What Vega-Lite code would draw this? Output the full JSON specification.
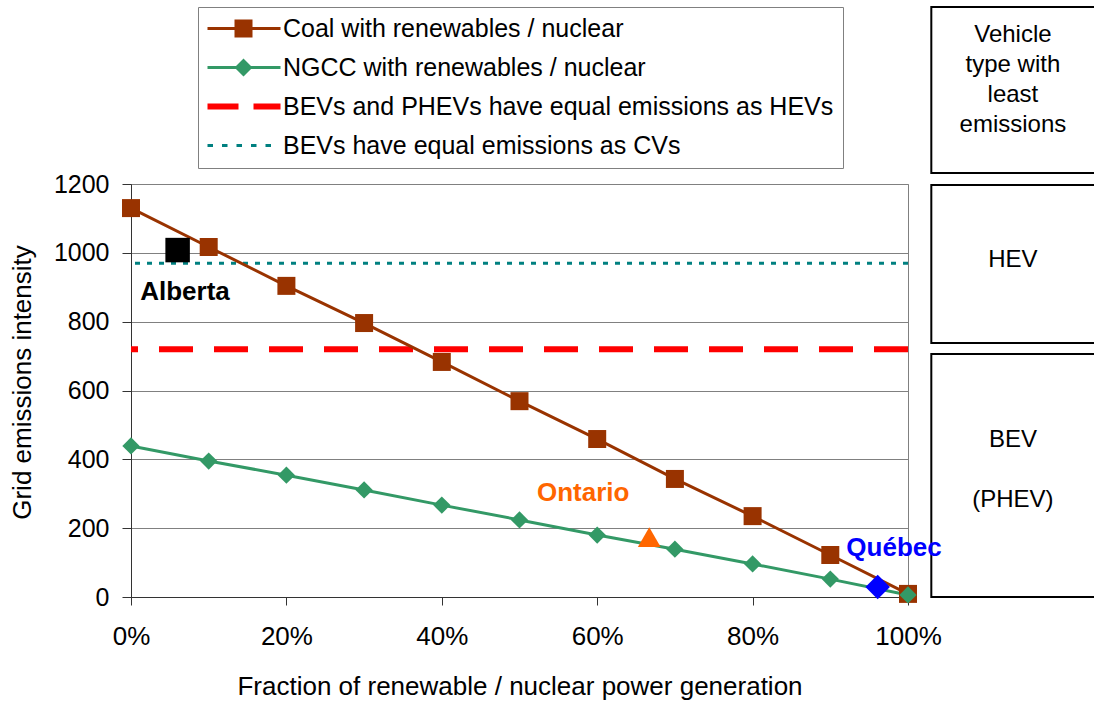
{
  "$schema": "https://vega.github.io/schema/vega-lite/v6.json",
  "width": 777,
  "height": 413,
  "autosize": {"type": "none"},
  "padding": {"left": 131, "top": 184, "right": 186, "bottom": 107},
  "background": "white",
  "config": {
    "font": "Liberation Sans",
    "view": {"stroke": "#808080", "strokeWidth": 1},
    "axis": {
      "labelFont": "Liberation Sans",
      "titleFont": "Liberation Sans",
      "labelColor": "#000",
      "titleColor": "#000",
      "titleFontWeight": "normal",
      "domainColor": "#333",
      "tickColor": "#333",
      "labelFlush": false,
      "labelOverlap": false,
      "labelBound": false
    },
    "legend": {
      "orient": "none",
      "legendX": 67,
      "legendY": -177,
      "title": null,
      "labelFont": "Liberation Sans",
      "labelFontSize": 25,
      "labelColor": "#000",
      "labelLimit": 1000,
      "labelOffset": 51,
      "symbolSize": 400,
      "symbolOpacity": 1,
      "symbolStrokeWidth": 0,
      "rowPadding": 13,
      "padding": 9,
      "strokeColor": "#808080",
      "fillColor": "#ffffff"
    }
  },
  "datasets": {
    "series": [
      {"series": "Coal", "fraction": 0.0, "intensity": 1130},
      {"series": "Coal", "fraction": 0.1, "intensity": 1017},
      {"series": "Coal", "fraction": 0.2, "intensity": 904},
      {"series": "Coal", "fraction": 0.3, "intensity": 796},
      {"series": "Coal", "fraction": 0.4, "intensity": 683},
      {"series": "Coal", "fraction": 0.5, "intensity": 569},
      {"series": "Coal", "fraction": 0.6, "intensity": 459},
      {"series": "Coal", "fraction": 0.7, "intensity": 343},
      {"series": "Coal", "fraction": 0.8, "intensity": 235},
      {"series": "Coal", "fraction": 0.9, "intensity": 122},
      {"series": "Coal", "fraction": 1.0, "intensity": 9},
      {"series": "NGCC", "fraction": 0.0, "intensity": 439},
      {"series": "NGCC", "fraction": 0.1, "intensity": 395},
      {"series": "NGCC", "fraction": 0.2, "intensity": 354},
      {"series": "NGCC", "fraction": 0.3, "intensity": 311},
      {"series": "NGCC", "fraction": 0.4, "intensity": 267},
      {"series": "NGCC", "fraction": 0.5, "intensity": 224},
      {"series": "NGCC", "fraction": 0.6, "intensity": 180},
      {"series": "NGCC", "fraction": 0.7, "intensity": 139},
      {"series": "NGCC", "fraction": 0.8, "intensity": 96},
      {"series": "NGCC", "fraction": 0.9, "intensity": 52},
      {"series": "NGCC", "fraction": 1.0, "intensity": 6}
    ],
    "thresholds": [
      {"threshold": "HEV", "intensity": 720},
      {"threshold": "CV", "intensity": 970}
    ],
    "regions": [
      {"region": "Alberta", "fraction": 0.06, "intensity": 1008, "lx": 0.0695, "ly": 886},
      {"region": "Ontario", "fraction": 0.667, "intensity": 174, "lx": 0.582, "ly": 302},
      {"region": "Québec", "fraction": 0.961, "intensity": 29, "lx": 0.982, "ly": 142}
    ],
    "boxes": [
      {"box": "head", "x1": 1.03, "x2": 1.26, "y1": 1232, "y2": 1714},
      {"box": "HEV", "x1": 1.03, "x2": 1.26, "y1": 738, "y2": 1197},
      {"box": "BEV", "x1": 1.03, "x2": 1.26, "y1": 0, "y2": 706}
    ],
    "boxText": [
      {"text": "Vehicle\ntype with\nleast\nemissions", "tx": 1.135, "ty": 1634},
      {"text": "HEV", "tx": 1.135, "ty": 980},
      {"text": "BEV", "tx": 1.135, "ty": 456},
      {"text": "(PHEV)", "tx": 1.135, "ty": 282}
    ],
    "legendItems": [
      {"item": "Coal with renewables / nuclear"},
      {"item": "NGCC with renewables / nuclear"},
      {"item": "BEVs and PHEVs have equal emissions as HEVs"},
      {"item": "BEVs have equal emissions as CVs"}
    ]
  },
  "layer": [
    {
      "data": {"name": "boxes"},
      "mark": {"type": "rect", "fill": "#ffffff", "stroke": "#000000", "strokeWidth": 2},
      "encoding": {
        "x": {"field": "x1", "type": "quantitative"},
        "x2": {"field": "x2"},
        "y": {"field": "y1", "type": "quantitative"},
        "y2": {"field": "y2"}
      }
    },
    {
      "data": {"name": "boxText"},
      "mark": {"type": "text", "fontSize": 24, "font": "Liberation Sans", "align": "center", "baseline": "middle", "lineBreak": "\n", "lineHeight": 30, "color": "#000000"},
      "encoding": {
        "x": {"field": "tx", "type": "quantitative"},
        "y": {"field": "ty", "type": "quantitative"},
        "text": {"field": "text"}
      }
    },
    {
      "data": {"name": "thresholds"},
      "transform": [{"filter": "datum.threshold === 'HEV'"}],
      "mark": {"type": "rule", "color": "#ff0000", "strokeWidth": 6, "strokeDash": [34, 21]},
      "encoding": {"y": {"field": "intensity", "type": "quantitative"}}
    },
    {
      "data": {"name": "thresholds"},
      "transform": [{"filter": "datum.threshold === 'CV'"}],
      "mark": {"type": "rule", "color": "#008080", "strokeWidth": 3, "strokeDash": [5, 7]},
      "encoding": {"y": {"field": "intensity", "type": "quantitative"}}
    },
    {
      "data": {"name": "series"},
      "transform": [{"filter": "datum.series === 'Coal'"}],
      "mark": {"type": "line", "color": "#993300", "strokeWidth": 3},
      "encoding": {
        "x": {
          "field": "fraction", "type": "quantitative",
          "scale": {"domain": [0, 1], "nice": false},
          "axis": {
            "values": [0, 0.2, 0.4, 0.6, 0.8, 1],
            "format": ".0%",
            "labelFontSize": 26,
            "tickSize": 8,
            "labelPadding": 18,
            "grid": false,
            "title": "Fraction of renewable / nuclear power generation",
            "titleFontSize": 26,
            "titlePadding": 24
          }
        },
        "y": {
          "field": "intensity", "type": "quantitative",
          "scale": {"domain": [0, 1200], "nice": false},
          "axis": {
            "values": [0, 200, 400, 600, 800, 1000, 1200],
            "format": "d",
            "labelFontSize": 25,
            "tickSize": 9,
            "labelPadding": 13,
            "grid": true,
            "gridColor": "#808080",
            "title": "Grid emissions intensity",
            "titleFontSize": 26,
            "titlePadding": 18,
            "titleY": 198
          }
        }
      }
    },
    {
      "data": {"name": "series"},
      "transform": [{"filter": "datum.series === 'NGCC'"}],
      "mark": {"type": "line", "color": "#339966", "strokeWidth": 3},
      "encoding": {
        "x": {"field": "fraction", "type": "quantitative"},
        "y": {"field": "intensity", "type": "quantitative"}
      }
    },
    {
      "data": {"name": "series"},
      "transform": [{"filter": "datum.series === 'Coal'"}],
      "mark": {"type": "point", "shape": "square", "filled": true, "opacity": 1, "color": "#993300", "size": 324},
      "encoding": {
        "x": {"field": "fraction", "type": "quantitative"},
        "y": {"field": "intensity", "type": "quantitative"}
      }
    },
    {
      "data": {"name": "series"},
      "transform": [{"filter": "datum.series === 'NGCC'"}],
      "mark": {"type": "point", "shape": "diamond", "filled": true, "opacity": 1, "color": "#339966", "size": 300},
      "encoding": {
        "x": {"field": "fraction", "type": "quantitative"},
        "y": {"field": "intensity", "type": "quantitative"}
      }
    },
    {
      "data": {"name": "regions"},
      "transform": [{"filter": "datum.region === 'Alberta'"}],
      "mark": {"type": "point", "shape": "square", "filled": true, "opacity": 1, "color": "#000000", "size": 600},
      "encoding": {
        "x": {"field": "fraction", "type": "quantitative"},
        "y": {"field": "intensity", "type": "quantitative"}
      }
    },
    {
      "data": {"name": "regions"},
      "transform": [{"filter": "datum.region === 'Ontario'"}],
      "mark": {"type": "point", "shape": "triangle-up", "filled": true, "opacity": 1, "color": "#ff6600", "size": 520},
      "encoding": {
        "x": {"field": "fraction", "type": "quantitative"},
        "y": {"field": "intensity", "type": "quantitative"}
      }
    },
    {
      "data": {"name": "regions"},
      "transform": [{"filter": "datum.region === 'Québec'"}],
      "mark": {"type": "point", "shape": "diamond", "filled": true, "opacity": 1, "color": "#0000ff", "size": 600},
      "encoding": {
        "x": {"field": "fraction", "type": "quantitative"},
        "y": {"field": "intensity", "type": "quantitative"}
      }
    },
    {
      "data": {"name": "regions"},
      "transform": [{"filter": "datum.region === 'Alberta'"}],
      "mark": {"type": "text", "fontSize": 26, "fontWeight": "bold", "font": "Liberation Sans", "align": "center", "baseline": "middle", "color": "#000000"},
      "encoding": {
        "x": {"field": "lx", "type": "quantitative"},
        "y": {"field": "ly", "type": "quantitative"},
        "text": {"field": "region"}
      }
    },
    {
      "data": {"name": "regions"},
      "transform": [{"filter": "datum.region === 'Ontario'"}],
      "mark": {"type": "text", "fontSize": 26, "fontWeight": "bold", "font": "Liberation Sans", "align": "center", "baseline": "middle", "color": "#ff6600"},
      "encoding": {
        "x": {"field": "lx", "type": "quantitative"},
        "y": {"field": "ly", "type": "quantitative"},
        "text": {"field": "region"}
      }
    },
    {
      "data": {"name": "regions"},
      "transform": [{"filter": "datum.region === 'Québec'"}],
      "mark": {"type": "text", "fontSize": 26, "fontWeight": "bold", "font": "Liberation Sans", "align": "center", "baseline": "middle", "color": "#0000ff"},
      "encoding": {
        "x": {"field": "lx", "type": "quantitative"},
        "y": {"field": "ly", "type": "quantitative"},
        "text": {"field": "region"}
      }
    },
    {
      "data": {"name": "legendItems"},
      "mark": {"type": "point", "filled": true, "opacity": 0},
      "encoding": {
        "shape": {
          "field": "item", "type": "nominal",
          "scale": {
            "domain": ["Coal with renewables / nuclear", "NGCC with renewables / nuclear", "BEVs and PHEVs have equal emissions as HEVs", "BEVs have equal emissions as CVs"],
            "range": [
              "M-1.2,-0.15H6.1V0.15H-1.2Z M1.5,-0.9H3.3V0.9H1.5Z",
              "M-1.2,-0.15H6.1V0.15H-1.2Z M2.4,-0.9L3.3,0L2.4,0.9L1.5,0Z",
              "M-1.2,-0.3H1.9V0.3H-1.2Z M3.4,-0.3H6.1V0.3H3.4Z",
              "M-1.2,-0.15H-0.65V0.15H-1.2Z M0.25,-0.15H0.8V0.15H0.25Z M1.7,-0.15H2.25V0.15H1.7Z M3.15,-0.15H3.7V0.15H3.15Z M4.6,-0.15H5.15V0.15H4.6Z"
            ]
          },
          "legend": {"labelExpr": "datum.label + ' '"}
        },
        "color": {
          "field": "item", "type": "nominal",
          "scale": {
            "domain": ["Coal with renewables / nuclear", "NGCC with renewables / nuclear", "BEVs and PHEVs have equal emissions as HEVs", "BEVs have equal emissions as CVs"],
            "range": ["#993300", "#339966", "#ff0000", "#008080"]
          },
          "legend": {"labelExpr": "datum.label + ' '"}
        }
      }
    }
  ]
}
